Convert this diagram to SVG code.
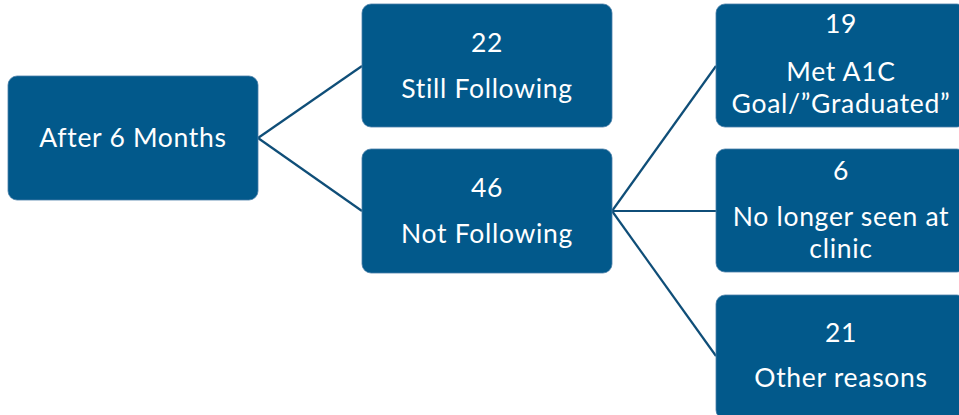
<svg xmlns="http://www.w3.org/2000/svg" width="959" height="415" viewBox="0 0 959 415">
<style>
.box{fill:#02598B;stroke:#4a7fa8;stroke-width:0.8}
.t{font-family:Lato,"Open Sans","Liberation Sans",sans-serif;font-size:26.5px;letter-spacing:0.7px;font-variant-ligatures:none;fill:#ffffff;text-anchor:middle}
.c{stroke:#0F4E78;stroke-width:2.2;fill:none}
</style>
<rect width="959" height="415" fill="#ffffff"/>
<g id="connectors">
<line class="c" x1="258" y1="138" x2="362" y2="66"/>
<line class="c" x1="258" y1="138" x2="362" y2="211"/>
<line class="c" x1="612" y1="211" x2="716" y2="66"/>
<line class="c" x1="612" y1="211" x2="716" y2="211"/>
<line class="c" x1="612" y1="211" x2="716" y2="356"/>
</g>
<g id="n-after">
<rect class="box" x="8" y="76" width="250" height="124" rx="9"/>
<text class="t" x="133" y="147">After 6 Months</text>
</g>
<g id="n-still">
<rect class="box" x="362" y="4" width="250" height="123" rx="9"/>
<text class="t" x="487" y="52">22</text>
<text class="t" x="487" y="98">Still Following</text>
</g>
<g id="n-not">
<rect class="box" x="362" y="149" width="250" height="124" rx="9"/>
<text class="t" x="487" y="197">46</text>
<text class="t" x="487" y="243">Not Following</text>
</g>
<g id="n-met">
<rect class="box" x="716" y="4" width="250" height="123" rx="9"/>
<text class="t" x="841" y="33">19</text>
<text class="t" x="841" y="81">Met A1C</text>
<text class="t" x="841" y="113">Goal/”Graduated”</text>
</g>
<g id="n-nolonger">
<rect class="box" x="716" y="149" width="250" height="123" rx="9"/>
<text class="t" x="841" y="180">6</text>
<text class="t" x="841" y="226">No longer seen at</text>
<text class="t" x="841" y="258">clinic</text>
</g>
<g id="n-other">
<rect class="box" x="716" y="295" width="250" height="124" rx="9"/>
<text class="t" x="841" y="342">21</text>
<text class="t" x="841" y="387">Other reasons</text>
</g>
</svg>
